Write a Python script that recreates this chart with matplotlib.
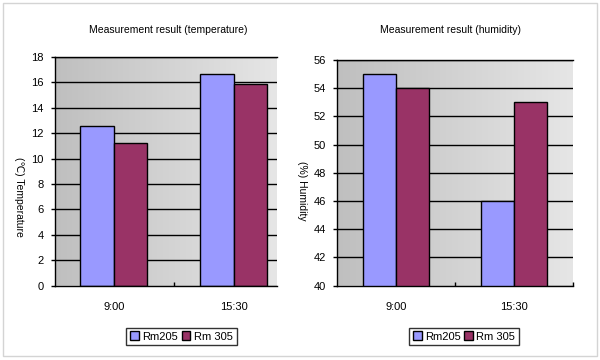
import numpy as np
import matplotlib
matplotlib.use("Agg")
import matplotlib.pyplot as plt
from matplotlib.colors import LinearSegmentedColormap
from matplotlib.patches import Rectangle

plt.rcParams['font.family'] = ['Liberation Sans', 'DejaVu Sans']

# data
categories = ['9:00', '15:30']
series_names = ['Rm205', 'Rm 305']
temp_rm205 = [12.6, 16.7]
temp_rm305 = [11.2, 15.9]
hum_rm205 = [55, 46]
hum_rm305 = [54, 53]

colors = ['#9999FF', '#993366']
bg_cmap = LinearSegmentedColormap.from_list('bg', ['#bfbfbf', '#e6e6e6'])

W, H = 600, 360
fig = plt.figure(figsize=(W / 100, H / 100), dpi=100)

# light outer frame
fig.patches.append(Rectangle((3 / W, 1 - 356 / H), 594 / W, 353 / H, transform=fig.transFigure,
                             fill=False, edgecolor='#d4d4d4', linewidth=1))


def px_axes(x0, y0, x1, y1):
    return fig.add_axes([x0 / W, 1 - y1 / H, (x1 - x0) / W, (y1 - y0) / H])


def draw_chart(ax, a, b, ymin, ymax, xlim):
    # gradient plot area
    grad = np.linspace(0, 1, 256).reshape(1, -1)
    ax.imshow(grad, cmap=bg_cmap, extent=[0, 1, 0, 1], transform=ax.transAxes,
              aspect='auto', zorder=0)
    x = np.arange(len(categories))
    w = 0.28
    ax.bar(x - w / 2, a, w, color=colors[0], edgecolor='black', linewidth=1, zorder=3, label=series_names[0])
    ax.bar(x + w / 2, b, w, color=colors[1], edgecolor='black', linewidth=1, zorder=3, label=series_names[1])
    ax.set_yticks(np.arange(ymin, ymax + 1, 2))
    ax.yaxis.grid(True, color='black', linewidth=1, zorder=1)
    ax.set_axisbelow(True)
    ax.set_xticks(x)
    ax.set_xticklabels(categories)
    ax.set_xticks([0.5, 1.5], minor=True)
    # limits after the ticks, set_xticks widens the view otherwise
    ax.set_xlim(*xlim)
    ax.set_ylim(ymin, ymax)
    ax.tick_params(axis='x', which='major', length=0, pad=12, labelsize=8)
    ax.tick_params(axis='x', which='minor', direction='in', length=3, width=1)
    ax.tick_params(axis='y', length=3, width=1, pad=5, labelsize=8)
    ax.spines['right'].set_visible(False)
    for s in ['left', 'bottom', 'top']:
        ax.spines[s].set_linewidth(1)
        ax.spines[s].set_zorder(4)


ax1 = px_axes(55, 57, 277, 285.5)
draw_chart(ax1, temp_rm205, temp_rm305, 0, 18, (-0.49, 1.36))
ax2 = px_axes(337, 60, 573, 285.5)
draw_chart(ax2, hum_rm205, hum_rm305, 40, 56, (-0.5, 1.5))

# titles and axis labels
fig.text(168 / W, 1 - 30 / H, 'Measurement result (temperature)', ha='center', va='center', fontsize=7.5)
fig.text(450 / W, 1 - 30 / H, 'Measurement result (humidity)', ha='center', va='center', fontsize=7.5)
fig.text(19 / W, 1 - 197 / H, '(\u2103) Temperature', rotation=270, ha='center', va='center', fontsize=7.5)
fig.text(302 / W, 1 - 191 / H, '(%) Humidity', rotation=270, ha='center', va='center', fontsize=7.5)

# legends
for ax, cx in [(ax1, 181.5), (ax2, 464)]:
    leg = ax.legend(loc='center', bbox_to_anchor=(cx / W, 1 - 336.5 / H), bbox_transform=fig.transFigure,
                    ncol=2, fontsize=8, frameon=True, fancybox=False, handlelength=0.8, handleheight=0.8,
                    handletextpad=0.3, columnspacing=0.3, borderpad=0.35, borderaxespad=0)
    leg.get_frame().set_edgecolor('black')
    leg.get_frame().set_linewidth(1)

plt.savefig('out.png', dpi=100)
